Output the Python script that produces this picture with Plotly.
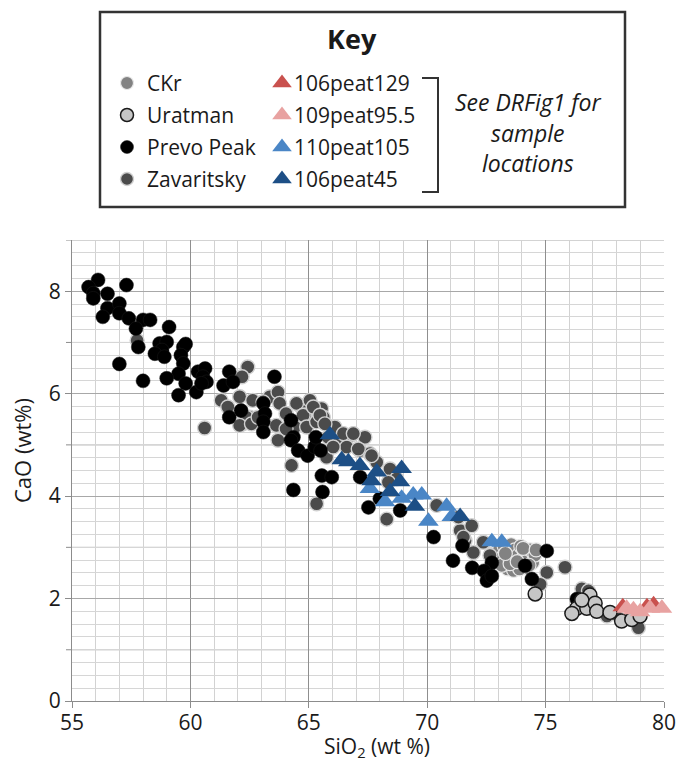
import plotly.graph_objects as go

FONT = "Open Sans"
INK = "#1a1a1a"

# ---- SiO2 / CaO (wt %) by source ----
ckr_sio2 = [73.05, 73.2, 73.25, 73.35, 73.45, 73.55, 73.6, 73.7, 73.75, 73.85,
            73.95, 74.0, 74.1, 74.2, 74.25, 74.35, 74.45, 74.55, 73.4, 73.65,
            73.9, 74.05, 73.15, 73.5, 73.8, 74.3, 73.3, 74.6]
ckr_cao = [2.95, 2.82, 3.02, 2.70, 2.90, 3.05, 2.78, 2.95, 2.62, 2.85,
           3.02, 2.72, 2.90, 2.60, 2.80, 2.95, 2.70, 2.85, 2.58, 2.55,
           2.58, 2.98, 2.65, 2.68, 2.72, 2.65, 2.88, 2.95]

zav_sio2 = [57.75, 62.42, 62.18, 60.6, 61.3, 61.58, 62.08, 62.63, 62.5, 63.35,
            63.7, 63.77, 64.04, 64.62, 64.83, 62.21, 63.07, 62.36, 62.08, 62.58,
            62.86, 63.63, 64.48, 65.05, 65.54, 64.76, 64.41, 64.04, 64.91, 65.33,
            65.61, 66.1, 65.82, 66.31, 66.8, 67.37, 66.6, 67.16, 67.58, 67.87,
            65.75, 63.7, 64.27, 65.33, 66.03, 65.19, 65.47, 65.68, 66.46, 66.88,
            67.09, 67.65, 68.43, 68.71, 68.36, 68.29, 70.4, 71.6, 71.95, 72.37,
            72.65, 71.39, 71.88, 75.05, 75.82, 74.77, 76.53, 76.81, 77.59, 77.94,
            78.92, 71.32, 71.53]
zav_cao = [7.04, 6.52, 6.33, 5.33, 5.87, 5.74, 5.94, 5.87, 5.54, 5.94,
           6.03, 5.81, 5.61, 5.77, 5.58, 5.41, 5.84, 5.54, 5.38, 5.41,
           5.54, 5.38, 5.81, 5.87, 5.71, 5.58, 5.35, 5.31, 5.35, 5.45,
           5.54, 5.35, 5.15, 5.09, 5.19, 5.15, 4.96, 4.89, 4.83, 4.66,
           4.76, 5.09, 4.60, 3.85, 4.96, 5.74, 5.58, 5.41, 5.22, 5.22,
           4.92, 4.79, 4.53, 4.34, 4.27, 3.55, 3.82, 3.13, 2.90, 3.10,
           2.84, 3.33, 3.42, 2.51, 2.61, 2.28, 2.19, 2.15, 1.66, 1.70,
           1.43, 3.59, 3.20]

prevo_sio2 = [56.1, 55.7, 55.9, 55.9, 56.5, 57.3, 56.5, 56.3, 57.0, 57.0,
              57.4, 58.0, 58.3, 57.7, 59.1, 57.8, 58.7, 59.0, 58.8, 58.5,
              58.9, 59.7, 59.8, 59.6, 59.7, 59.5, 57.0, 58.0, 59.0, 59.5,
              59.8, 60.25, 60.32, 60.62, 60.53, 60.68, 60.47, 61.4, 61.64, 61.8,
              63.55, 61.64, 62.14, 63.08, 63.15, 63.08, 63.08, 64.25, 64.35, 64.25,
              64.55, 64.95, 65.25, 65.3, 65.5, 65.55, 65.97, 64.35, 65.58, 67.17,
              67.52, 68.0, 68.86, 70.27, 71.49, 71.09, 71.9, 72.73, 72.4, 72.52,
              72.73, 74.13, 74.42, 75.05, 76.32, 76.46]
prevo_cao = [8.22, 8.08, 7.96, 7.86, 7.95, 8.12, 7.67, 7.50, 7.76, 7.57,
             7.47, 7.44, 7.44, 7.27, 7.30, 6.91, 6.98, 7.01, 6.85, 6.78,
             6.72, 6.91, 6.97, 6.75, 6.59, 6.39, 6.58, 6.25, 6.30, 5.97,
             6.20, 6.03, 6.43, 6.49, 6.33, 6.23, 6.20, 6.16, 6.43, 6.23,
             6.33, 5.54, 5.67, 5.81, 5.61, 5.45, 5.25, 5.48, 5.15, 5.09,
             4.89, 4.79, 4.96, 5.15, 4.89, 4.40, 4.37, 4.12, 4.08, 4.37,
             3.78, 3.95, 3.72, 3.20, 3.03, 2.74, 2.60, 2.70, 2.54, 2.35,
             2.44, 2.64, 2.38, 2.93, 1.99, 1.89]

urat_sio2 = [74.56, 76.87, 76.32, 76.11, 76.74, 77.09, 77.16, 77.72, 78.21, 76.53,
             78.64, 78.99]
urat_cao = [2.09, 2.07, 1.81, 1.71, 1.81, 1.91, 1.75, 1.73, 1.56, 1.97,
            1.59, 1.66]

p129_sio2 = [78.26, 79.28, 79.56]
p129_cao = [1.84, 1.84, 1.88]

p955_sio2 = [78.42, 78.99, 79.41, 79.91, 78.71]
p955_cao = [1.81, 1.74, 1.81, 1.81, 1.78]

p105_sio2 = [67.58, 68.22, 68.92, 69.41, 69.77, 70.05, 70.82, 71.04, 72.73, 73.15]
p105_cao = [4.15, 3.89, 3.96, 4.02, 4.02, 3.51, 3.80, 3.60, 3.11, 3.10]

p45_sio2 = [65.89, 66.39, 66.67, 67.16, 67.87, 67.65, 68.92, 68.85, 68.43, 69.48, 71.39]
p45_cao = [5.20, 4.71, 4.67, 4.60, 4.47, 4.30, 4.54, 4.28, 4.09, 3.80, 3.60]

x_ticks = [55, 60, 65, 70, 75, 80]
y_ticks = [0, 2, 4, 6, 8]
y_odd_levels = [1, 3, 5, 7, 9]

# marker styles per source
STYLES = {
    "CKr": dict(symbol="circle", size=14, color="#828282", line=dict(color="#e8e8e8", width=1.2)),
    "Uratman": dict(symbol="circle", size=14, color="#c6c6c6", line=dict(color="#1a1a1a", width=1.5)),
    "Prevo Peak": dict(symbol="circle", size=14, color="#000000", line=dict(color="#1a1a1a", width=0.5)),
    "Zavaritsky": dict(symbol="circle", size=14, color="#4b4b4b", line=dict(color="#d0d0d0", width=1.4)),
    "106peat129": dict(symbol="triangle-up", size=18, color="#c9514e", line=dict(width=0)),
    "109peat95.5": dict(symbol="triangle-up", size=18, color="#e8a2a1", line=dict(width=0)),
    "110peat105": dict(symbol="triangle-up", size=18, color="#4a86c6", line=dict(width=0)),
    "106peat45": dict(symbol="triangle-up", size=18, color="#1d4f86", line=dict(width=0)),
}

series = [
    ("CKr", ckr_sio2, ckr_cao),
    ("Zavaritsky", zav_sio2, zav_cao),
    ("Prevo Peak", prevo_sio2, prevo_cao),
    ("Uratman", urat_sio2, urat_cao),
    ("106peat129", p129_sio2, p129_cao),
    ("109peat95.5", p955_sio2, p955_cao),
    ("110peat105", p105_sio2, p105_cao),
    ("106peat45", p45_sio2, p45_cao),
]

W, H = 685, 763
PLOT_W = 664 - 72
fig = go.Figure()

for name, xs, ys in series:
    fig.add_trace(go.Scatter(
        x=xs, y=ys, mode="markers", name=name, showlegend=False,
        marker=STYLES[name], cliponaxis=False,
    ))

# ---- key panel (pixel coordinates on a hidden axis pair) ----
key_left = ["CKr", "Uratman", "Prevo Peak", "Zavaritsky"]
key_right = ["106peat129", "109peat95.5", "110peat105", "106peat45"]
key_rows = [83, 115, 147, 179]

for col_names, mx in ((key_left, 127), (key_right, 282)):
    for name, ry in zip(col_names, key_rows):
        style = dict(STYLES[name])
        style["size"] = 13 if style["symbol"] == "circle" else 17
        fig.add_trace(go.Scatter(
            x=[mx], y=[ry], mode="markers", showlegend=False, hoverinfo="skip",
            marker=style, xaxis="x2", yaxis="y2", cliponaxis=False,
        ))

annotations = [
    dict(text="<b>Key</b>", x=352, y=38, xref="x2", yref="y2", showarrow=False,
         font=dict(family=FONT, size=27, color=INK), xanchor="center", yanchor="middle"),
]
for name, ry in zip(key_left, key_rows):
    annotations.append(dict(text=name, x=145, y=ry, xref="x2", yref="y2", showarrow=False,
                            font=dict(family=FONT, size=21, color=INK),
                            xanchor="left", yanchor="middle"))
for name, ry in zip(key_right, key_rows):
    annotations.append(dict(text=name, x=292, y=ry, xref="x2", yref="y2", showarrow=False,
                            font=dict(family=FONT, size=21, color=INK),
                            xanchor="left", yanchor="middle"))
for line, ry in zip(["See DRFig1 for", "sample", "locations"], [102, 133, 163]):
    annotations.append(dict(text=f"<i>{line}</i>", x=528, y=ry, xref="x2", yref="y2",
                            showarrow=False, font=dict(family=FONT, size=23, color=INK),
                            xanchor="center", yanchor="middle"))

# axis titles
annotations.append(dict(text="SiO<sub>2</sub> (wt %)", x=377 / W, y=1 - 747 / H,
                        xref="paper", yref="paper", showarrow=False,
                        font=dict(family=FONT, size=21, color=INK),
                        xanchor="center", yanchor="middle"))
annotations.append(dict(text="CaO (wt%)", x=22 / W, y=1 - 451 / H, textangle=-90,
                        xref="paper", yref="paper", showarrow=False,
                        font=dict(family=FONT, size=22, color=INK),
                        xanchor="center", yanchor="middle"))

GRID_INT = "#a8a8a8"
shapes = [
    dict(type="rect", xref="x2", yref="y2", x0=100, x1=625, y0=12, y1=207,
         line=dict(color="#333333", width=2.5), fillcolor="rgba(0,0,0,0)"),
    dict(type="path", xref="x2", yref="y2", path="M 422,78 H 438 V 192 H 422",
         line=dict(color="#333333", width=2)),
]
# gridlines and tick marks at the unlabelled odd CaO levels
for lvl in y_odd_levels:
    shapes.append(dict(type="line", xref="x domain", yref="y", x0=0, x1=1, y0=lvl, y1=lvl,
                       line=dict(color=GRID_INT, width=1), layer="below"))
    shapes.append(dict(type="line", xref="x domain", yref="y", x0=-6 / PLOT_W, x1=0,
                       y0=lvl, y1=lvl, line=dict(color="#8c8c8c", width=1), layer="below"))

fig.update_layout(
    width=W, height=H,
    margin=dict(l=0, r=0, t=0, b=0),
    paper_bgcolor="white", plot_bgcolor="white",
    font=dict(family=FONT, size=21, color=INK),
    annotations=annotations, shapes=shapes,
    xaxis=dict(
        domain=[72 / W, 664 / W], range=[55, 80], tickvals=x_ticks,
        ticks="outside", ticklen=6, tickcolor="#8c8c8c", ticklabelstandoff=-3,
        showgrid=True, gridcolor="#8f8f8f", gridwidth=1,
        minor=dict(dtick=1, showgrid=True, gridcolor="#d2d2d2", ticks=""),
        showline=True, linecolor="#8c8c8c", zeroline=False,
        tickfont=dict(family=FONT, size=21, color=INK), automargin=False,
    ),
    yaxis=dict(
        domain=[62 / H, 523 / H], range=[0, 9], tickvals=y_ticks,
        ticks="outside", ticklen=6, tickcolor="#8c8c8c",
        showgrid=True, gridcolor=GRID_INT, gridwidth=1,
        minor=dict(dtick=0.25, showgrid=True, gridcolor="#d6d6d6", ticks=""),
        showline=True, linecolor="#8c8c8c", zeroline=False,
        tickfont=dict(family=FONT, size=21, color=INK), automargin=False,
    ),
    xaxis2=dict(domain=[0, 1], range=[0, W], visible=False, fixedrange=True),
    yaxis2=dict(domain=[1 - 215 / H, 1], range=[215, 0], visible=False, fixedrange=True),
)

fig.write_html("out.html")
